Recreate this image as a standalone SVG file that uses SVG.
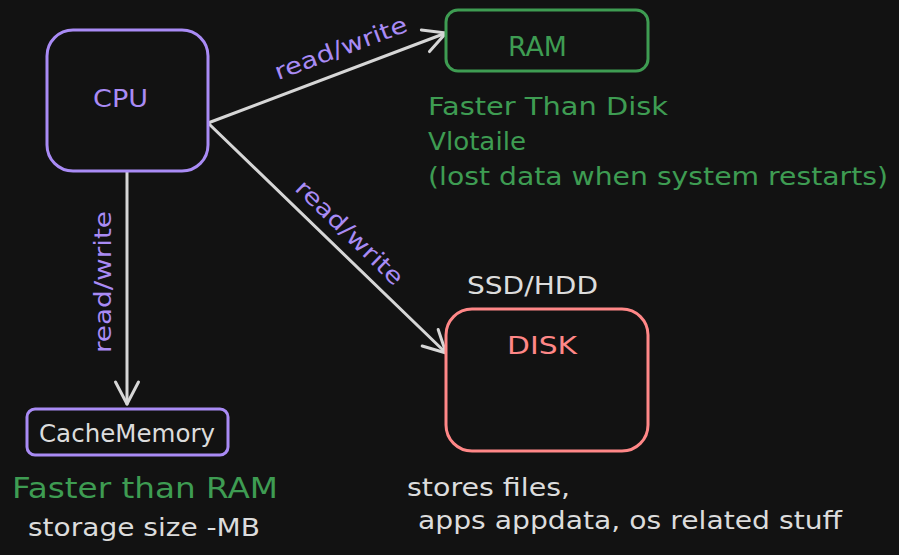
<svg xmlns="http://www.w3.org/2000/svg" width="899" height="555" viewBox="0 0 899 555">
  <style>
    .t { font-family: "DejaVu Sans", "Noto Sans", sans-serif; }
    .box { fill: #121212; stroke-width: 3; }
    .purple { stroke: #a98bf5; }
    .green { stroke: #3e9c52; }
    .red { stroke: #ff8787; }
    .wire { fill: none; stroke: #d6d6d6; stroke-width: 3; stroke-linecap: round; }
    .lbl { fill: #a98bf5; font-size: 23px; }
    .gray { fill: #dcdcdc; }
    .gtext { fill: #3e9c52; }
  </style>
  <defs>
    <marker id="ah" markerUnits="userSpaceOnUse" viewBox="-30 -16 34 32" refX="0" refY="0" markerWidth="34" markerHeight="32" orient="auto" overflow="visible">
      <path d="M-22,-11.5 L0,0 L-22,11.5" fill="none" stroke="#d6d6d6" stroke-width="3" stroke-linecap="round" stroke-linejoin="round"/>
    </marker>
  </defs>
  <rect x="0" y="0" width="899" height="555" fill="#121212"/>

  <g id="connectors">
    <line class="wire" x1="208" y1="123" x2="446" y2="33" marker-end="url(#ah)"/>
    <line class="wire" x1="208" y1="123" x2="446" y2="353" marker-end="url(#ah)"/>
    <line class="wire" x1="127" y1="172" x2="127" y2="404" marker-end="url(#ah)"/>
    <text class="t lbl" transform="translate(341,49) rotate(-20.6)" x="0" y="7" text-anchor="middle" textLength="140" lengthAdjust="spacingAndGlyphs">read/write</text>
    <text class="t lbl" transform="translate(349,233) rotate(44)" x="0" y="7" text-anchor="middle" textLength="140" lengthAdjust="spacingAndGlyphs">read/write</text>
    <text class="t lbl" transform="translate(104,282) rotate(-90)" x="0" y="7" text-anchor="middle" textLength="142" lengthAdjust="spacingAndGlyphs">read/write</text>
  </g>

  <g id="node-cpu">
    <rect class="box purple" x="47" y="30" width="161" height="141" rx="26"/>
    <text class="t" x="93" y="107" font-size="25" fill="#a98bf5" textLength="55" lengthAdjust="spacingAndGlyphs">CPU</text>
  </g>

  <g id="node-ram">
    <rect class="box green" x="446" y="10" width="202" height="61" rx="12"/>
    <text class="t" x="508" y="56" font-size="26" fill="#3e9c52" textLength="59" lengthAdjust="spacingAndGlyphs">RAM</text>
  </g>

  <g id="ram-notes">
    <text class="t gtext" x="428" y="115" font-size="25" textLength="240" lengthAdjust="spacingAndGlyphs">Faster Than Disk</text>
    <text class="t gtext" x="428" y="150" font-size="25" textLength="98" lengthAdjust="spacingAndGlyphs">Vlotaile</text>
    <text class="t gtext" x="428" y="185" font-size="25" textLength="460" lengthAdjust="spacingAndGlyphs">(lost data when system restarts)</text>
  </g>

  <g id="node-disk">
    <rect class="box red" x="446" y="309" width="202" height="142" rx="26"/>
    <text class="t" x="507" y="354" font-size="25" fill="#ff8787" textLength="70" lengthAdjust="spacingAndGlyphs">DISK</text>
  </g>

  <g id="disk-notes">
    <text class="t gray" x="467" y="294" font-size="24" textLength="131" lengthAdjust="spacingAndGlyphs">SSD/HDD</text>
    <text class="t gray" x="407" y="496" font-size="24" textLength="163" lengthAdjust="spacingAndGlyphs">stores files,</text>
    <text class="t gray" x="418" y="529" font-size="24" textLength="424" lengthAdjust="spacingAndGlyphs">apps appdata, os related stuff</text>
  </g>

  <g id="node-cache">
    <rect class="box purple" x="27" y="409" width="201" height="46" rx="8"/>
    <text class="t gray" x="39" y="442" font-size="24" textLength="176" lengthAdjust="spacingAndGlyphs">CacheMemory</text>
  </g>

  <g id="cache-notes">
    <text class="t gtext" x="12" y="498" font-size="29" textLength="266" lengthAdjust="spacingAndGlyphs">Faster than RAM</text>
    <text class="t gray" x="28" y="536" font-size="24" textLength="232" lengthAdjust="spacingAndGlyphs">storage size -MB</text>
  </g>
</svg>
